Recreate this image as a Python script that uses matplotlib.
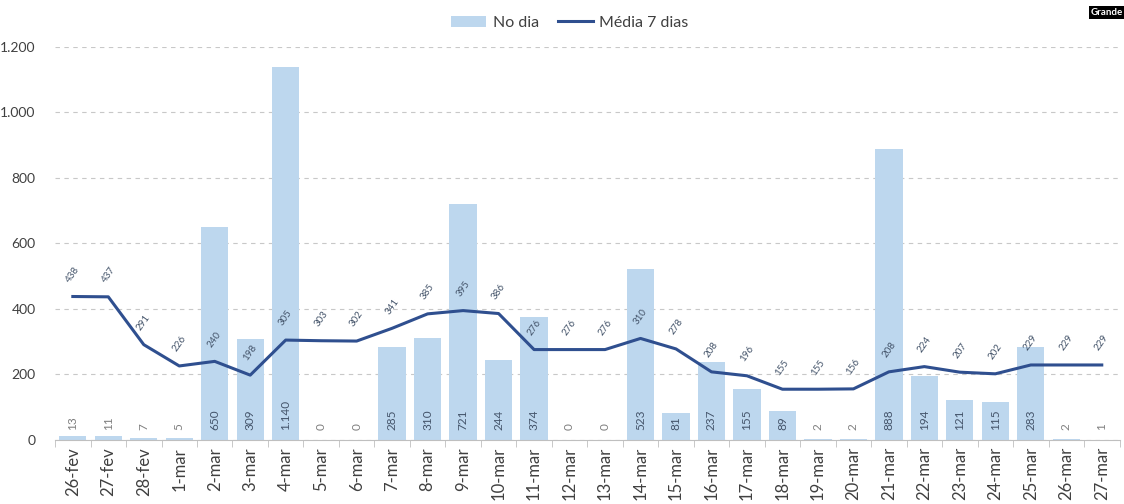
import matplotlib
matplotlib.use("Agg")
import matplotlib.pyplot as plt
import numpy as np
from matplotlib.ticker import FuncFormatter, MultipleLocator

plt.rcParams['font.family'] = ['Lato', 'DejaVu Sans']

dates = ["26-fev", "27-fev", "28-fev"] + [f"{d}-mar" for d in range(1, 28)]
no_dia = [13, 11, 7, 5, 650, 309, 1140, 0, 0, 285, 310, 721, 244, 374, 0, 0,
          523, 81, 237, 155, 89, 2, 2, 888, 194, 121, 115, 283, 2, 1]
media7 = [438, 437, 291, 226, 240, 198, 305, 303, 302, 341, 385, 395, 386, 276,
          276, 276, 310, 278, 208, 196, 155, 155, 156, 208, 224, 207, 202, 229,
          229, 229]

bar_color = "#BDD7EE"
line_color = "#2F4F8F"
text_color = "#404040"

def fmt(v):
    return f"{int(v):,}".replace(",", ".")

fig = plt.figure(figsize=(11.24, 5.04), dpi=100)
ax = fig.add_axes([0.049, 0.127, 0.947, 0.78])

x = np.arange(len(dates))
bars = ax.bar(x, no_dia, width=0.77, color=bar_color, label="No dia", zorder=2)
line, = ax.plot(x, media7, color=line_color, lw=2.2, label="Média 7 dias", zorder=3)

for xi, v in zip(x, no_dia):
    ax.text(xi, 30, fmt(v), rotation=90, ha="center", va="bottom",
            fontsize=8.5, color="#44546A" if v > 60 else "#7F7F7F", zorder=4)

for xi, v in zip(x, media7):
    ax.annotate(fmt(v), (xi, v), xytext=(0, 9), textcoords="offset points",
                rotation=55, ha="center", va="bottom", fontsize=7,
                color="#44546A", zorder=4)

ax.set_xlim(-0.5, len(dates) - 0.5)
ax.set_ylim(0, 1200)
ax.yaxis.set_major_locator(MultipleLocator(200))
ax.yaxis.set_major_formatter(FuncFormatter(lambda v, p: fmt(v)))
ax.grid(axis="y", ls=(0, (4, 4)), color="#C8C8C8", lw=0.8, zorder=0)
ax.set_axisbelow(True)

ax.set_xticks(x)
ax.set_xticklabels(dates, rotation=90, fontsize=12, color=text_color)
ax.tick_params(axis="x", length=0, pad=5)
ax.set_xticks(np.arange(-0.5, len(dates), 1), minor=True)
ax.tick_params(axis="x", which="minor", length=5, color="#BFBFBF")
ax.tick_params(axis="y", length=0, labelsize=10, labelcolor=text_color, pad=14)

for s in ["top", "right", "left"]:
    ax.spines[s].set_visible(False)
ax.spines["bottom"].set_color("#BFBFBF")

fig.legend([bars, line], ["No dia", "Média 7 dias"], loc="center",
           bbox_to_anchor=(0.507, 0.955), ncol=2, frameon=False,
           fontsize=11.5, handlelength=2.2, columnspacing=1.2, handletextpad=0.4,
           labelcolor=text_color)

fig.text(0.999, 0.985, "Grande", ha="right", va="top", fontsize=7,
         color="white", fontweight="bold",
         bbox=dict(facecolor="black", edgecolor="none", pad=1.5))

fig.savefig("out.png", dpi=100)
